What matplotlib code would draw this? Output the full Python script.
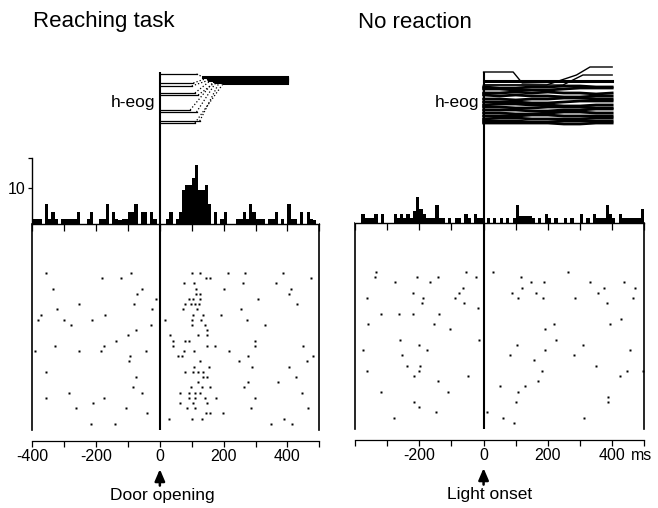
import numpy as np
import matplotlib
matplotlib.use('Agg')
import matplotlib.pyplot as plt

plt.rcParams['font.family'] = ['Liberation Sans', 'DejaVu Sans']

W, H = 658, 508

# 10 ms bins, -400 .. 500 ms
bin_edges = np.arange(-400, 510, 10)

reach_hist = [1.5, 1.5, 1.5, 0, 5.5, 1.5, 3.5, 1.5, 0, 1.5,
              1.5, 1.5, 1.5, 1.5, 3.5, 0, 0, 1.5, 3.5, 0,
              0, 1.5, 1.5, 5.5, 0, 3.5, 1.5, 1, 1.5, 1.5,
              3.5, 3.5, 5.5, 0, 3.5, 3.5, 0, 3.5, 1.5, 0,
              0, 0, 1.5, 3.5, 0, 1.5, 3.5, 9.5, 11, 11,
              12.8, 16.4, 9.5, 9.5, 11, 5.5, 0, 3.5, 0, 1.5,
              3.5, 0, 0, 0, 1.5, 1.5, 3.5, 1.5, 5.5, 3.5,
              1.5, 1.5, 1.5, 0, 1.5, 1.5, 3.5, 0, 1.5, 0,
              5.5, 1.5, 1.5, 0, 3.5, 0, 3.5, 1.5, 1, 0]

light_hist = [0, 0, 2.5, 1.5, 1.5, 1.5, 2.5, 0, 2.5, 0,
              0, 0, 2.5, 1.5, 2.5, 1.5, 2.5, 1.5, 3.5, 7.4,
              4, 2.5, 1.5, 1.5, 1.5, 5.1, 1.5, 1.5, 0, 1.5,
              0, 1.5, 1.5, 0, 2.5, 1.5, 0, 2.5, 1.5, 1.5,
              0, 1.5, 0, 1.5, 0, 1.5, 0, 1.5, 0, 1.5,
              5.1, 2, 2, 2, 2, 1.5, 0, 1.5, 0, 2.5,
              1.5, 0, 1.5, 0, 0, 1.5, 0, 1.5, 0, 0,
              2.5, 0, 1.5, 0, 2.5, 1.5, 1.5, 1.5, 5.1, 2.5,
              1.5, 0, 2.5, 1.5, 1.5, 1.5, 1.5, 1.5, 1.5, 4]

# spike times (ms) per trial, top to bottom
reach_raster = [
    [-358, -89, 100, 125, 213, 266, 386],
    [-181, -121, 144, 156, 475],
    [77, 108, 261, 365],
    [-334, -55, 112, 201, 410],
    [-72, 112, 125, 405],
    [-13, 92, 105, 125, 309],
    [-253, -82, 80, 97, 109, 122, 430],
    [-323, -24, 72, 116, 253],
    [-374, -173, 105, 136, 192],
    [-382, -302, -213, 17, 100, 128, 273],
    [-278, -27, 101, 141, 330],
    [-76, 149],
    [-101, 31, 121, 149],
    [-137, 40, 80, 92, 298],
    [-330, -174, 40, 149, 173, 298, 449],
    [-391, -252, -186, -44, 77, 108, 217],
    [-94, 56, 68, 277, 479],
    [-96, 125, 249, 461],
    [108, 153, 289, 406],
    [-358, 80, 105, 121, 136],
    [-76, 136, 149, 426],
    [121, 277, 370],
    [-85, 97, 132, 156, 265],
    [-285, -55, 64, 92, 109, 125, 446],
    [-357, -174, 92, 109, 141, 176, 298],
    [-211, 64, 105, 149],
    [-262, -105, 84, 111, 285, 466],
    [-40, 145, 157, 197],
    [28, 100, 132, 390],
    [-217, -141, 349, 414],
]

light_raster = [
    [-335, -55, 28, 264],
    [-339, -208, -143, -23, 115],
    [-275, -166, 147, 187, 330, 436],
    [-65, 120, 376, 471],
    [-220, -76, 88, 164, 355],
    [-363, -187, -89, 108, 184, 283, 464],
    [-191, -60, 383],
    [-17],
    [-318, -263, -219, -139],
    [427],
    [-360, -155, 219, 392],
    [-103, 191],
    [],
    [-259, -13, 224],
    [-202, 104, 308],
    [-374, -176, 191, 457],
    [-255, 83, 280],
    [157],
    [-239, -198, 351],
    [-363, -202, 181, 446, 495],
    [-215, -48, 424],
    [-143, 168],
    [51, 128],
    [-319, -111, 108],
    [388],
    [-215, 100, 388],
    [-202],
    [-148, 12],
    [-279, 61, 312],
    [96],
]

# reaching eog: start level, saccade onset (ms), saccade end (ms), end level
reach_eog = [
    (54, 115, 135, 51),
    (45, 105, 150, 50),
    (42, 100, 155, 48),
    (35, 110, 165, 49),
    (33, 120, 175, 46),
    (18, 95, 170, 47),
    (16, 115, 185, 50),
    (7, 125, 190, 48),
    (5, 110, 200, 45),
]

# no reaction eog: traces given at keyframes
light_eog_t = [0, 50, 100, 150, 200, 250, 300, 350, 400]
light_eog = [
    [41, 40, 40, 41, 41, 42, 42, 41, 41],
    [39, 39, 38, 38, 38, 39, 40, 40, 40],
    [35, 35, 36, 35, 36, 35, 35, 34, 35],
    [33, 32, 33, 32, 32, 31, 31, 32, 32],
    [29, 29, 28, 29, 29, 30, 30, 29, 29],
    [26, 26, 26, 25, 25, 26, 27, 27, 27],
    [23, 24, 24, 23, 23, 22, 22, 23, 23],
    [21, 21, 20, 20, 21, 21, 21, 20, 20],
    [18, 18, 18, 17, 17, 18, 18, 19, 19],
    [15, 15, 14, 14, 15, 16, 16, 15, 15],
    [12, 12, 12, 13, 13, 12, 12, 12, 12],
    [9, 10, 10, 9, 9, 9, 9, 10, 10],
    [7, 7, 7, 6, 6, 7, 7, 7, 7],
    [5, 5, 5, 5, 5, 4, 4, 5, 5],
]
light_eog_extra = [
    ([0, 92, 120, 400], [56, 56, 45, 47]),
    ([0, 196, 289, 331, 400], [43, 43, 53, 61, 61]),
    ([0, 247, 309, 400], [43, 43, 53, 53]),
]

ticks = np.arange(-400, 501, 100)


def box(x0, y0, x1, y1):
    return [x0 / W, 1 - y1 / H, (x1 - x0) / W, (y1 - y0) / H]


fig = plt.figure(figsize=(W / 100, H / 100), dpi=100)

panels = [
    dict(x0=32.3, x1=319.3, base=224, raster=reach_raster, hist=reach_hist,
         title='Reaching task', tx=33, labels=['-400', '', '-200', '', '0', '', '200', '', '400', ''],
         event='Door opening', ex=8, yaxis=True),
    dict(x0=355, x1=644.3, base=223, raster=light_raster, hist=light_hist,
         title='No reaction', tx=358, labels=['', '', '-200', '', '0', '', '200', '', '400', ''],
         event='Light onset', ex=20, yaxis=False),
]

px_per_count = 3.57
for k, p in enumerate(panels):
    ax_r = fig.add_axes(box(p['x0'], p['base'], p['x1'], p['base'] + 206))
    ax_h = fig.add_axes(box(p['x0'], 128, p['x1'], p['base']))
    ax_e = fig.add_axes(box(p['x0'], 72, p['x1'], 128))

    # raster
    for i, times in enumerate(p['raster']):
        ax_r.plot(times, [i] * len(times), 's', ms=2.1, color='k', mec='none')
    ax_r.set_xlim(-400, 500)
    ax_r.set_ylim(30.2, -9.4)
    ax_r.axvline(0, color='k', lw=1.5)
    ax_r.spines['top'].set_visible(False)
    for s in ['left', 'right']:
        ax_r.spines[s].set_linewidth(1.2)
    ax_r.spines['bottom'].set_position(('outward', 8))
    ax_r.spines['bottom'].set_linewidth(0.9)
    ax_r.set_yticks([])
    ax_r.set_xticks(ticks)
    ax_r.set_xticklabels(p['labels'])
    ax_r.tick_params(axis='x', direction='out', length=4, width=0.9, pad=2, labelsize=11.5)
    if k == 1:
        ax_r.text(490, -0.09, 'ms', transform=ax_r.get_xaxis_transform(),
                  ha='center', va='top', fontsize=11.5)
    trans = ax_r.get_xaxis_transform()
    ax_r.annotate('', xy=(0, -0.19), xytext=(0, -0.27), xycoords=trans, textcoords=trans,
                  arrowprops=dict(arrowstyle='-|>,head_length=0.7,head_width=0.3',
                                  lw=1.8, color='k', shrinkA=0, shrinkB=0))
    ax_r.text(p['ex'], -0.28, p['event'], transform=trans, ha='center', va='top', fontsize=12.5)

    # histogram
    ax_h.bar(bin_edges[:-1], p['hist'], width=10, align='edge', color='k', linewidth=0)
    ax_h.set_xlim(-400, 500)
    ax_h.set_ylim(0, (p['base'] - 128) / px_per_count)
    ax_h.axvline(0, color='k', lw=1.5)
    ax_h.spines['top'].set_visible(False)
    ax_h.spines['right'].set_visible(False)
    ax_h.spines['bottom'].set_linewidth(1.0)
    ax_h.set_xticks(ticks)
    ax_h.tick_params(axis='x', direction='out', length=5, width=0.9, labelbottom=False)
    if p['yaxis']:
        ax_h.spines['left'].set_bounds(0, 18.5)
        ax_h.spines['left'].set_linewidth(1.0)
        ax_h.set_yticks([10, 18.5])
        ax_h.set_yticklabels(['10', ''])
        ax_h.tick_params(axis='y', direction='out', length=3, width=0.9, pad=2, labelsize=11.5)
    else:
        ax_h.spines['left'].set_visible(False)
        ax_h.set_yticks([])

    # eog
    ax_e.set_xlim(-400, 500)
    ax_e.set_ylim(0, 56)
    ax_e.axis('off')
    ax_e.axvline(0, color='k', lw=1.5)
    if k == 0:
        for s0, t0, t1, s1 in reach_eog:
            ax_e.plot([0, t0], [s0, s0], 'k-', lw=0.9)
            ax_e.plot([t0, t1], [s0, s1], 'k:', lw=0.9)
            ax_e.plot([t1, 400], [s1, s1], 'k-', lw=2.2, clip_on=False)
    else:
        for v in light_eog:
            ax_e.plot(light_eog_t, v, 'k-', lw=2.0)
        for t, v in light_eog_extra:
            ax_e.plot(t, v, 'k-', lw=1.0, clip_on=False)
        ax_e.plot([0, 400], [47, 47], 'k-', lw=2.2)
    ax_e.text(-15, 26, 'h-eog', ha='right', va='center', fontsize=12.5)

    fig.text(p['tx'] / W, 1 - 22 / H, p['title'], ha='left', va='center', fontsize=16)

fig.savefig('out.png', dpi=100)
